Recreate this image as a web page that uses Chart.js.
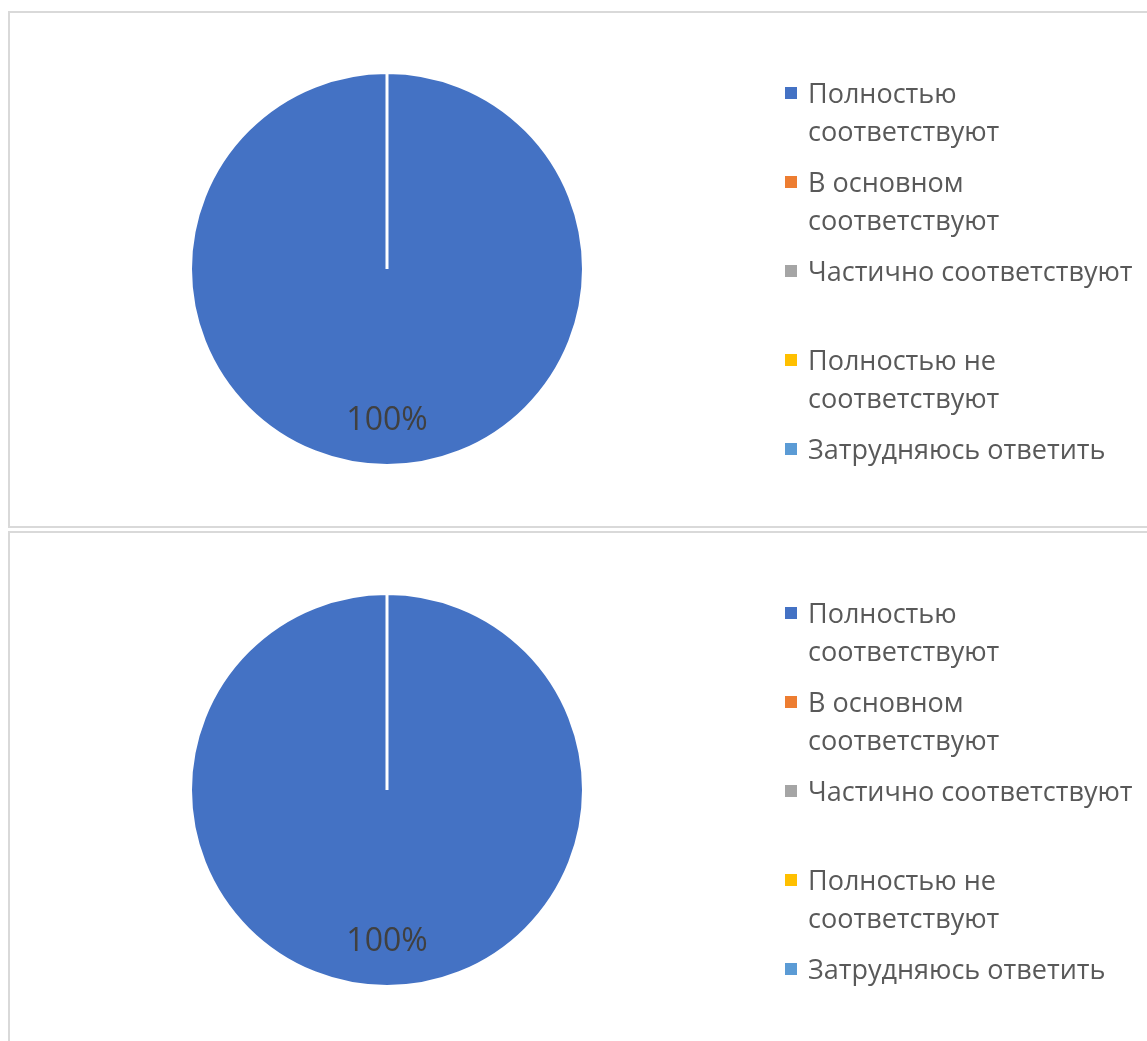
<!DOCTYPE html>
<html>
<head>
  <meta charset="utf-8">
  <title>Соответствие</title>
  <script src="https://cdn.jsdelivr.net/npm/chart.js"></script>
  <style>
    body { margin: 0; background: #fff; font-family: "Open Sans", sans-serif; }
    .box { position: absolute; left: 8px; width: 1160px; border: 2px solid #d9d9d9; box-sizing: border-box; }
    .chart { position: absolute; left: 0; }
    .legend { position: absolute; left: 785px; color: #595959; font-size: 27px; line-height: 38px; }
    .item { position: absolute; left: 0; width: 360px; }
    .item i { position: absolute; left: 0; top: 13px; width: 12px; height: 12px; }
    .item span { position: absolute; left: 23px; white-space: nowrap; }
  </style>
</head>
<body>
  <div class="box" style="top:11px;height:517px"></div>
  <div class="box" style="top:531px;height:600px"></div>
  <canvas id="chart1" class="chart" style="top:0px" width="1147" height="520"></canvas>
  <canvas id="chart2" class="chart" style="top:521px" width="1147" height="520"></canvas>
  <div id="legend1" class="legend" style="top:74px"></div>
  <div id="legend2" class="legend" style="top:594px"></div>
  <script>
    // данные
    var categories = ['Полностью соответствуют', 'В основном соответствуют', 'Частично соответствуют', 'Полностью не соответствуют', 'Затрудняюсь ответить'];
    var legendLines = [['Полностью', 'соответствуют'], ['В основном', 'соответствуют'], ['Частично соответствуют'], ['Полностью не', 'соответствуют'], ['Затрудняюсь ответить']];
    var values1 = [100, 0, 0, 0, 0];
    var values2 = [100, 0, 0, 0, 0];
    var colors = ['#4472C4', '#ED7D31', '#A5A5A5', '#FFC000', '#5B9BD5'];

    // подписи процентов внутри секторов
    var pctLabels = {
      id: 'pctLabels',
      afterDatasetsDraw: function(chart) {
        var ctx = chart.ctx;
        var data = chart.data.datasets[0].data;
        var total = data.reduce(function(a, b) { return a + b; }, 0);
        chart.getDatasetMeta(0).data.forEach(function(arc, i) {
          if (!data[i]) return;
          var p = arc.getProps(['x', 'y', 'startAngle', 'endAngle', 'outerRadius']);
          var mid = (p.startAngle + p.endAngle) / 2;
          var r = p.outerRadius * 0.775;
          ctx.save();
          ctx.fillStyle = '#404040';
          ctx.font = '32px "Open Sans", sans-serif';
          ctx.textAlign = 'center';
          ctx.textBaseline = 'middle';
          ctx.fillText(Math.round(data[i] / total * 100) + '%', p.x + Math.cos(mid) * r, p.y + Math.sin(mid) * r);
          ctx.restore();
        });
      }
    };

    function buildLegend(id) {
      var el = document.getElementById(id);
      for (var i = 0; i < categories.length; i++) {
        var d = document.createElement('div');
        d.className = 'item';
        d.style.top = (i * 89) + 'px';
        d.title = categories[i];
        d.innerHTML = '<i style="background:' + colors[i] + '"></i><span>' + legendLines[i].join('<br>') + '</span>';
        el.appendChild(d);
      }
    }

    function drawPie(id, values) {
      new Chart(document.getElementById(id), {
        type: 'pie',
        data: {
          labels: categories,
          datasets: [{ data: values, backgroundColor: colors, borderColor: '#ffffff', borderWidth: 3 }]
        },
        options: {
          responsive: false,
          animation: false,
          layout: { padding: { left: 189, top: 71, right: 562, bottom: 53 } },
          plugins: { legend: { display: false }, tooltip: { enabled: false } }
        },
        plugins: [pctLabels]
      });
    }

    drawPie('chart1', values1);
    drawPie('chart2', values2);
    buildLegend('legend1');
    buildLegend('legend2');
  </script>
</body>
</html>
